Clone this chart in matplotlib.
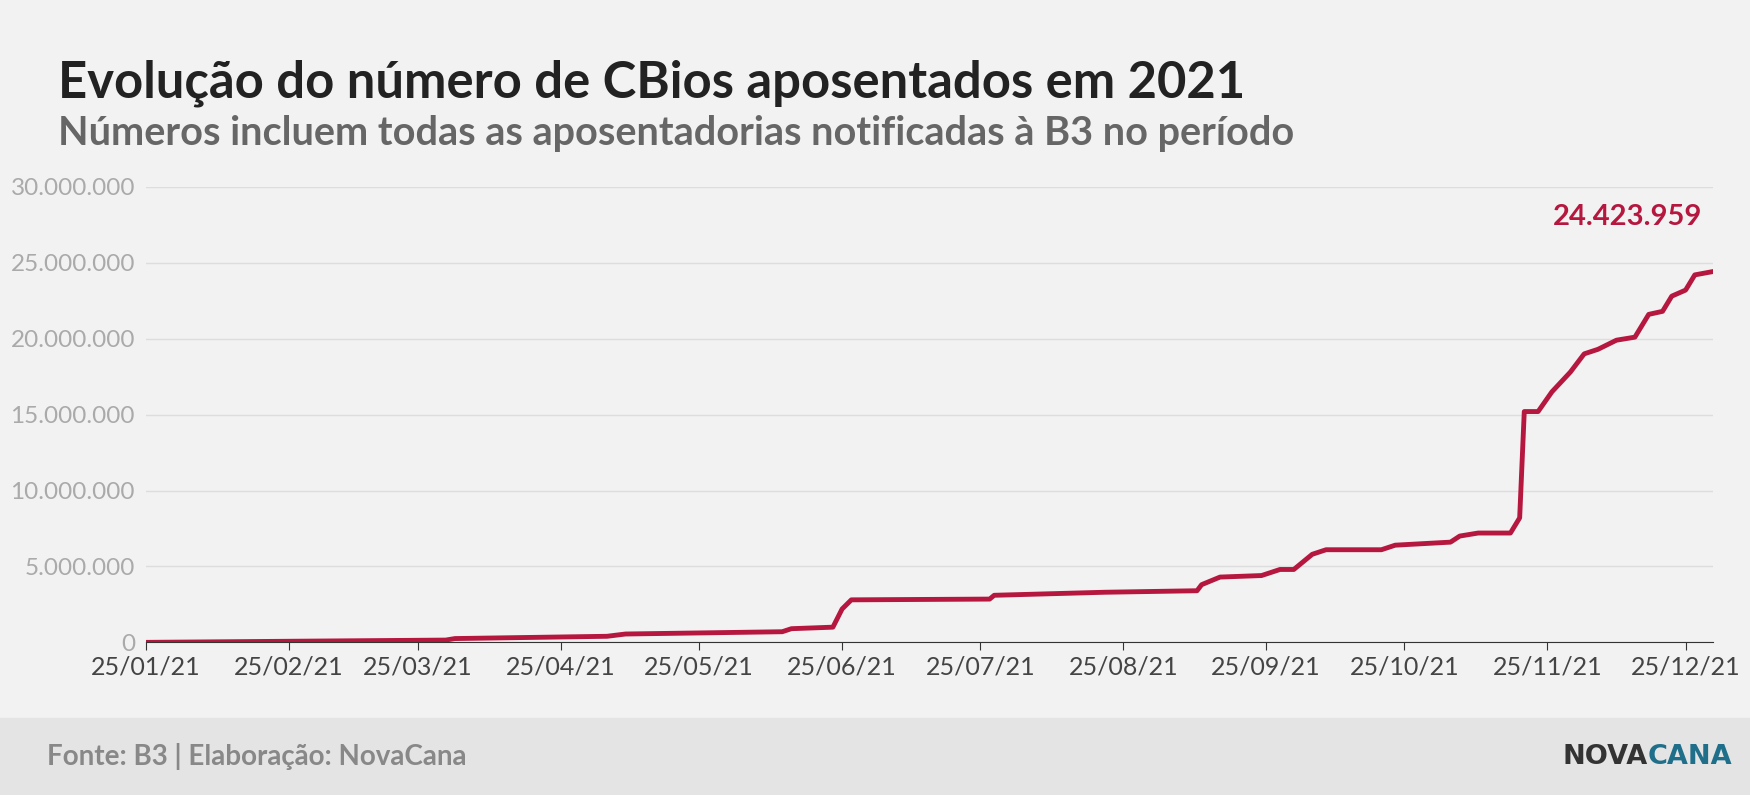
import matplotlib
matplotlib.use("Agg")
import matplotlib.pyplot as plt
import matplotlib.dates as mdates
import matplotlib.ticker as mticker
import pandas as pd

# Retired CBios, cumulative
dates = ["2021-01-25", "2021-03-31", "2021-04-02", "2021-05-05", "2021-05-09", "2021-06-12",
         "2021-06-14", "2021-06-23", "2021-06-25", "2021-06-27", "2021-07-27", "2021-07-28",
         "2021-08-21", "2021-09-10", "2021-09-11", "2021-09-15", "2021-09-24", "2021-09-28",
         "2021-10-01", "2021-10-05", "2021-10-08", "2021-10-20", "2021-10-23", "2021-11-04",
         "2021-11-06", "2021-11-10", "2021-11-17", "2021-11-19", "2021-11-20", "2021-11-23",
         "2021-11-26", "2021-11-30", "2021-12-03", "2021-12-06", "2021-12-10", "2021-12-14",
         "2021-12-17", "2021-12-20", "2021-12-22", "2021-12-25", "2021-12-27", "2021-12-31"]
values = [0.0, 0.15, 0.25, 0.4, 0.55, 0.7, 0.9, 1.0, 2.2, 2.8, 2.85, 3.1,
          3.3, 3.4, 3.8, 4.3, 4.4, 4.8, 4.8, 5.8, 6.1, 6.1, 6.4, 6.6,
          7.0, 7.2, 7.2, 8.2, 15.2, 15.2, 16.5, 17.8, 19.0, 19.3, 19.9, 20.1,
          21.6, 21.8, 22.8, 23.2, 24.2, 24.423959]
tick_dates = ["2021-01-25", "2021-02-25", "2021-03-25", "2021-04-25", "2021-05-25", "2021-06-25",
              "2021-07-25", "2021-08-25", "2021-09-25", "2021-10-25", "2021-11-25", "2021-12-25"]
last_label = "24.423.959"

x = pd.to_datetime(dates)
y = [v * 1e6 for v in values]

BG = "#F2F2F2"
RED = "#B5173F"
plt.rcParams["font.family"] = ["Lato", "DejaVu Sans"]

fig = plt.figure(figsize=(17.5, 7.95), dpi=100, facecolor=BG)
ax = fig.add_axes([0.0835, 0.192, 0.8955, 0.573])
ax.set_facecolor(BG)

ax.plot(x, y, color=RED, lw=3.5, solid_joinstyle="round")
ax.set_ylim(0, 30e6)
ax.set_xlim(pd.Timestamp("2021-01-25"), pd.Timestamp("2021-12-31"))
ax.yaxis.set_major_locator(mticker.MultipleLocator(5e6))
ax.yaxis.set_major_formatter(mticker.FuncFormatter(lambda v, p: f"{int(v):,}".replace(",", ".")))
ax.set_xticks(pd.to_datetime(tick_dates))
ax.xaxis.set_major_formatter(mdates.DateFormatter("%d/%m/%y"))
ax.grid(axis="y", color="#DDDDDD", lw=1)
ax.set_axisbelow(True)
for s in ["top", "right", "left"]:
    ax.spines[s].set_visible(False)
ax.spines["bottom"].set_color("#333333")
ax.tick_params(axis="y", length=0, labelsize=17.5, labelcolor="#AAAAAA", pad=8)
ax.tick_params(axis="x", length=6, color="#333333", labelsize=18, labelcolor="#444444")

ax.annotate(last_label, (x[-1], y[-1]), xytext=(-8, 30), textcoords="offset points",
            ha="right", va="bottom", color=RED, fontsize=21, fontweight="bold")

fig.text(0.033, 0.895, "Evolução do número de CBios aposentados em 2021", fontsize=36.5,
         fontweight="bold", color="#222222", va="center")
fig.text(0.033, 0.832, "Números incluem todas as aposentadorias notificadas à B3 no período",
         fontsize=28.5, fontweight="bold", color="#666666", va="center")

fig.patches.append(plt.Rectangle((0, 0), 1, 0.097, transform=fig.transFigure,
                                 color="#E4E4E4", zorder=0))
fig.text(0.027, 0.048, "Fonte: B3 | Elaboração: NovaCana", fontsize=20, fontweight="bold",
         color="#888888", va="center")
nova = fig.text(0.893, 0.048, "NOVA", fontsize=19.5, fontweight="bold", color="#333333",
                va="center", family="DejaVu Sans")
fig.canvas.draw()
bb = nova.get_window_extent().transformed(fig.transFigure.inverted())
fig.text(bb.x1, 0.048, "CANA", fontsize=19.5, fontweight="bold", color="#1F6F8B",
         va="center", family="DejaVu Sans")

fig.savefig("out.png", dpi=100, facecolor=BG)
